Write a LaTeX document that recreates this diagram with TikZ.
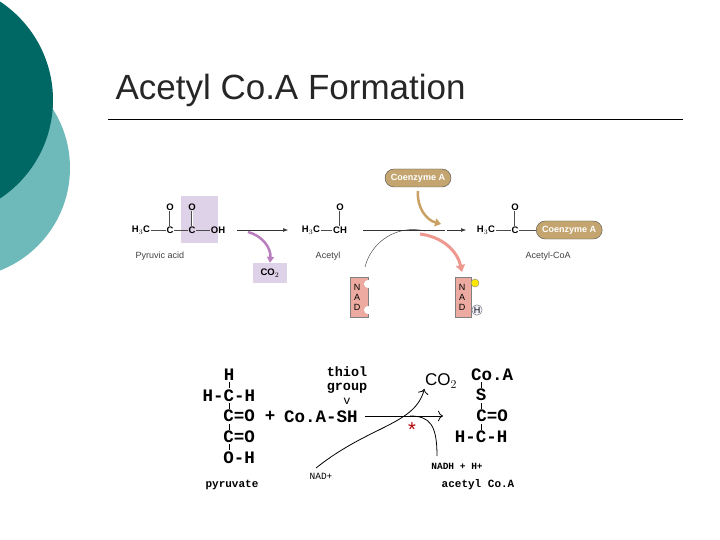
\documentclass[tikz,border=0pt]{standalone}
\usepackage{fontspec}
\setmainfont{Liberation Sans}
\newfontfamily\cour{Liberation Mono}
\usetikzlibrary{arrows.meta}
\definecolor{DarkTeal}{RGB}{0,104,100}
\definecolor{LightTeal}{RGB}{110,185,185}
\definecolor{Lilac}{RGB}{222,210,232}
\definecolor{Tan}{RGB}{196,165,112}
\definecolor{Salmon}{RGB}{236,170,160}
\tikzset{
  chem/.style={font=\fontsize{9.5}{10}\selectfont\bfseries, inner sep=0.5pt},
  lbl/.style={font=\fontsize{9}{10}\selectfont, text=black!75},
  mono/.style={font=\cour\bfseries\fontsize{17.5}{17.5}\selectfont, inner sep=0.5pt},
  small/.style={font=\cour\bfseries\fontsize{11}{11}\selectfont},
  pill/.style={rounded corners=9pt, fill=Tan, draw=black!70, text=white, font=\fontsize{9}{10}\selectfont\bfseries, minimum height=18pt, inner xsep=6pt},
}
\begin{document}
\begin{tikzpicture}[x=1pt, y=-1pt]
\useasboundingbox (0,0) rectangle (720,540);
% slide background
\fill[LightTeal] (-40,168) circle (110);
\fill[DarkTeal] (-65,100) circle (118);
\node[anchor=west, font=\fontsize{35}{35}\selectfont, text=black!85] (title) at (112,90) {Acetyl Co.A Formation};
\draw[line width=1pt] (108,120) -- (683,120);

% top diagram
\fill[Lilac] (181,196) rectangle (218,243);
\node[chem] (h1) at (141,230) {H$_3$C};
\node[chem] (c1) at (170,230) {C};
\node[chem] (c2) at (192,230) {C};
\node[chem] (oh) at (218,230) {OH};
\node[chem] (o1) at (170,207) {O};
\node[chem] (o2) at (192,207) {O};
\draw[black!70] (h1) -- (c1) (c1) -- (c2) (c2) -- (oh);
\draw[black!70, double, double distance=1pt] (o1) -- (c1) (o2) -- (c2);
\node[lbl] (pyr) at (160,256) {Pyruvic acid};
\node[chem, fill=Lilac, minimum width=34pt, minimum height=20pt] (co2a) at (270,273) {CO$_2$};
\draw[-{Latex}, black!80] (237,230) -- (288,230);
\draw[-{Triangle[length=6pt,width=7pt]}, line width=2.5pt, Lilac!60!violet] (248,232) to[bend left=40] (co2a.north);

\node[chem] (h2) at (311,230) {H$_3$C};
\node[chem] (ch) at (340,230) {CH};
\node[chem] (o3) at (340,207) {O};
\draw[black!70] (h2) -- (ch);
\draw[black!70, double, double distance=1pt] (o3) -- (ch);
\node[lbl] (acetyl) at (328,256) {Acetyl};

\node[pill] (coa1) at (418,178) {Coenzyme A};
\draw[black!80] (363,230) -- (445,230);
\draw[-{Latex}, black!80] (447,230) -- (466,230);
\fill[Salmon, draw=black!50] (350,277) rectangle (368,317);
\fill[Salmon, draw=black!50] (455,277) rectangle (471,317);
\node[lbl, text=black, align=center] (nad1) at (357,297) {N\\A\\D};
\node[lbl, text=black, align=center] (nad2) at (462,297) {N\\A\\D};
\fill[white] (368,284) circle (4) (368,310) circle (4);
\fill[yellow!90!orange, draw=black!50] (475,283) circle (4);
\node[circle, draw=black!60, fill=blue!5, inner sep=0.5pt, font=\fontsize{9}{10}\selectfont] (hh) at (477,310) {H};
\draw[black!80] (365,267) to[bend left=45] (425,231);
\draw[-{Triangle[length=7pt,width=9pt]}, line width=3pt, Salmon!90!red] (420,234) to[bend left=35] (462,272);
\draw[-{Triangle[length=6pt,width=8pt]}, line width=2.5pt, Tan!90!orange] (418,191) to[bend right=40] (441,224);

\node[chem] (h3) at (486,230) {H$_3$C};
\node[chem] (c3) at (515,230) {C};
\node[chem] (o4) at (515,207) {O};
\node[pill, anchor=west] (coa2) at (536,230) {Coenzyme A};
\draw[black!70] (h3) -- (c3) (c3) -- (coa2);
\draw[black!70, double, double distance=1pt] (o4) -- (c3);
\node[lbl] (acoa) at (548,256) {Acetyl-CoA};

% bottom diagram
\node[mono] (ph) at (229,375) {H};
\node[mono] (pc1) at (229,396) {H-C-H};
\node[mono] (pc2) at (239,416) {C=O};
\node[mono] (pc3) at (239,437) {C=O};
\node[mono] (pc4) at (239,458) {O-H};
\node[small] (pyruvate) at (232,485) {pyruvate};
\foreach \y in {385,406,427,447} \draw[line width=1pt] (229,\y-3) -- (229,\y+3);
\node[mono] (plus) at (270,416) {+};
\node[mono] (coash) at (321,417) {Co.A-SH};
\node[mono, inner sep=0pt, font=\cour\bfseries\fontsize{13.5}{13.5}\selectfont] (thiol) at (347,372) {thiol};
\node[mono, inner sep=0pt, font=\cour\bfseries\fontsize{13.5}{13.5}\selectfont] (group) at (347,388) {group};
\node[mono, inner sep=0pt, font=\cour\fontsize{12}{12}\selectfont] (vv) at (347,401) {v};
\node[mono, font=\fontsize{17}{17}\selectfont] (co2b) at (441,381) {CO$_2$};
\draw[-{To[length=5pt]}, line width=0.8pt] (365,416) -- (443,416);
\coordinate (nadp) at (316,468);
\node[small, font=\cour\fontsize{9.5}{9.5}\selectfont] (nadplus) at (321,476) {NAD+};
\draw[-{To[length=5pt]}, line width=0.8pt] (nadp) .. controls (370,425) and (415,425) .. (co2b.south west);
\node[small, font=\cour\bfseries\fontsize{9.5}{9.5}\selectfont] (nadh) at (457,466) {NADH + H+};
\draw[line width=0.8pt] (410,416) .. controls (430,416) and (437,425) .. (437,456);
\node[text=red!70!black, font=\fontsize{20}{20}\selectfont] (star) at (412,430) {*};
\node[mono] (ac1) at (492,375) {Co.A};
\node[mono] (ac2) at (481,395) {S};
\node[mono] (ac3) at (492,416) {C=O};
\node[mono] (ac4) at (481,437) {H-C-H};
\node[small] (acoab) at (478,485) {acetyl Co.A};
\foreach \y in {385,406,427} \draw[line width=1pt] (481,\y-3) -- (481,\y+3);
\end{tikzpicture}
\end{document}
